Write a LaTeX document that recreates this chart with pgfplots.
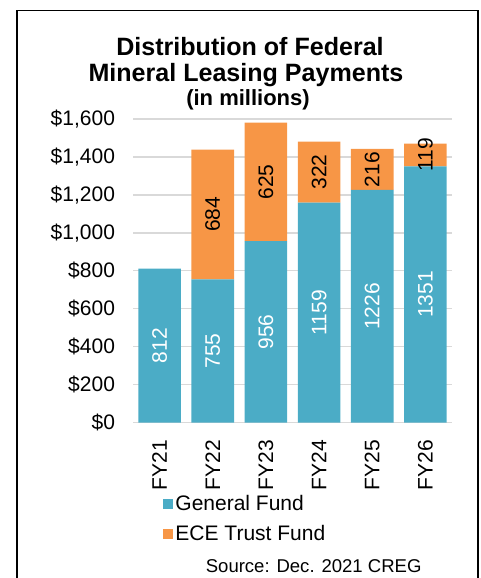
\documentclass[border=0pt]{standalone}
\usepackage{fontspec}
\setmainfont{Liberation Sans}
\usepackage{pgfplots}
\pgfplotsset{compat=1.18}
\definecolor{gfblue}{HTML}{4BACC6}
\definecolor{eceorange}{HTML}{F79646}
\definecolor{gridgray}{HTML}{D9D9D9}
\newcommand{\lbl}{\fontsize{15.75}{18.9}\selectfont}
\begin{document}
\begin{tikzpicture}
\useasboundingbox (0,0) rectangle (360pt,433.5pt);
% outer frame (bottom edge is outside the picture)
\draw[line width=1.3pt] (12.75pt,-2pt) -- (12.75pt,425.6pt) -- (358.4pt,425.6pt) -- (358.4pt,-2pt);

% title
\node[font=\fontsize{18.8}{22}\selectfont\bfseries, anchor=base, inner sep=0pt] at (187.5pt,391.7pt) {Distribution of Federal};
\node[font=\fontsize{18.8}{22}\selectfont\bfseries, anchor=base, inner sep=0pt] at (184.5pt,372.7pt) {Mineral Leasing Payments};
\node[font=\fontsize{16.5}{19}\selectfont\bfseries, anchor=base, inner sep=0pt] at (186pt,354pt) {(in millions)};

\begin{axis}[
  at={(99.75pt,116.5pt)}, anchor=south west,
  scale only axis, width=239.25pt, height=227.75pt,
  ybar stacked, bar width=0.8,
  xmin=-0.5, xmax=5.5, ymin=0, ymax=1600,
  xtick={0,1,2,3,4,5},
  xticklabels={FY21,FY22,FY23,FY24,FY25,FY26},
  ytick={0,200,...,1600},
  yticklabel={\$\pgfmathprintnumber{\tick}},
  /pgf/number format/assume math mode=true,
  tick label style={font=\lbl},
  xticklabel style={rotate=90, anchor=east},
  xticklabel shift=9.5pt,
  yticklabel shift=10pt,
  major tick length=0pt,
  axis line style={draw=none},
  ymajorgrids=true,
  grid style={gridgray, line width=1pt},
  legend style={draw=none, fill=none, at={(0.08,-0.22)}, anchor=north west,
    font=\lbl, row sep=6pt, legend cell align=left},
  legend image code/.code={\fill[#1] (0pt,-3.75pt) rectangle (7.5pt,3.75pt);},
  point meta=explicit symbolic,
  nodes near coords,
  nodes near coords style={font=\lbl, rotate=90, anchor=center},
]
\addplot[fill=gfblue, draw=none, nodes near coords style={text=white}]
  coordinates {(0,812) [812] (1,755) [755] (2,956) [956] (3,1159) [1159] (4,1226) [1226] (5,1351) [1351]};
\addplot[fill=eceorange, draw=none, nodes near coords style={text=black}]
  coordinates {(0,0) [] (1,684) [684] (2,625) [625] (3,322) [322] (4,216) [216] (5,119) [119]};
\legend{General Fund, ECE Trust Fund}
\draw[gridgray, line width=1.5pt] (axis cs:-0.5,0) -- (axis cs:5.5,0);
\end{axis}

\node[font=\fontsize{13.9}{16}\selectfont, anchor=base east, inner sep=0pt] at (316.3pt,4pt) {Source: Dec. 2021 CREG};
\end{tikzpicture}
\end{document}
